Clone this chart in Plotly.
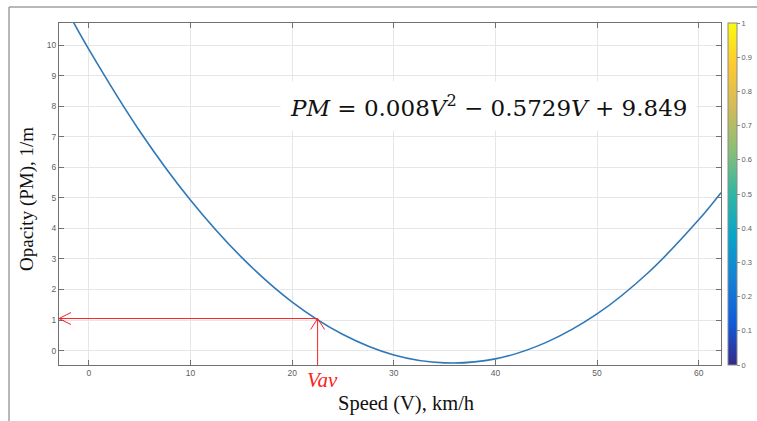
import plotly.graph_objects as go

speed = [-2, 0, 5, 10, 15, 20, 25, 30, 35, 40, 45, 50, 55, 60, 62.2]
opacity = [11.03, 9.85, 7.18, 4.92, 3.06, 1.59, 0.53, -0.14, -0.40, -0.27, 0.27, 1.20, 2.54, 4.28, 5.17]

# Marked average speed and its opacity
v_av = [22.5]
pm_av = [1.05]

x_ticks = [0, 10, 20, 30, 40, 50, 60]
y_ticks = [0, 1, 2, 3, 4, 5, 6, 7, 8, 9, 10]
cb_ticks = [0, 0.1, 0.2, 0.3, 0.4, 0.5, 0.6, 0.7, 0.8, 0.9, 1]
cb_labels = ["0", "0.1", "0.2", "0.3", "0.4", "0.5", "0.6", "0.7", "0.8", "0.9", "1"]

X_RANGE = [-2.95, 62.2]
Y_RANGE = [-0.47, 10.72]

W, H = 757, 421
ML, MR, MT, MB = 59, 36, 23, 56
PW = W - ML - MR
PH = H - MT - MB

parula = [
    [0.0, "#352A87"], [0.125, "#0F5CDD"], [0.25, "#1481D6"], [0.375, "#06A4CA"],
    [0.5, "#2EB7A4"], [0.625, "#87BF77"], [0.75, "#D1BB59"], [0.875, "#FEC832"],
    [1.0, "#F9FB0E"],
]

RED = "#ff2020"
GRAY = "#606060"

fig = go.Figure()

fig.add_trace(go.Scatter(
    x=speed, y=opacity, mode="lines", line=dict(color="#2f78b8", width=1.6, shape="spline"),
    showlegend=False, hoverinfo="skip",
))

# horizontal red line from the curve point to the left axis
fig.add_trace(go.Scatter(
    x=[X_RANGE[0], v_av[0]], y=[pm_av[0], pm_av[0]], mode="lines",
    line=dict(color=RED, width=1), showlegend=False, hoverinfo="skip",
))
# vertical red line from the bottom axis to the curve point
fig.add_trace(go.Scatter(
    x=[v_av[0], v_av[0]], y=[Y_RANGE[0], pm_av[0]], mode="lines",
    line=dict(color=RED, width=1), showlegend=False, hoverinfo="skip",
))

# colorbar
fig.add_trace(go.Scatter(
    x=[None], y=[None], mode="markers", showlegend=False, hoverinfo="skip",
    marker=dict(
        color=[0], cmin=0, cmax=1, colorscale=parula, showscale=True,
        colorbar=dict(
            thickness=9, len=1, lenmode="fraction", y=0.5, yanchor="middle",
            x=(728 - ML) / PW, xanchor="left", xpad=0, ypad=0,
            outlinecolor="#8a8a8a", outlinewidth=1,
            tickvals=cb_ticks, ticktext=cb_labels, ticks="outside", ticklen=3,
            tickcolor="#8a8a8a", ticklabeloverflow="allow",
            tickfont=dict(family="Liberation Sans, Arial", size=7.5, color=GRAY),
        ),
    ),
))

shapes = []
# chevron arrowhead at the left axis
for dy in (6, -6):
    shapes.append(dict(
        type="line", xref="x", yref="y", xsizemode="pixel", ysizemode="pixel",
        xanchor=X_RANGE[0], yanchor=pm_av[0], x0=0, y0=0, x1=12, y1=dy,
        line=dict(color=RED, width=1),
    ))
# chevron arrowhead at the curve point (pointing up)
for dx in (7, -7):
    shapes.append(dict(
        type="line", xref="x", yref="y", xsizemode="pixel", ysizemode="pixel",
        xanchor=v_av[0], yanchor=pm_av[0], x0=0, y0=0, x1=dx, y1=-11,
        line=dict(color=RED, width=1),
    ))
# outer frame (left and top edges of the picture)
fx = (9 - ML) / PW
fy_top = 1 + (MT - 7) / PH
fy_bot = -(MB) / PH - 0.01
shapes.append(dict(type="line", xref="paper", yref="paper", x0=fx, x1=fx, y0=fy_bot, y1=fy_top,
                   line=dict(color="#a0a0a0", width=1.5)))
shapes.append(dict(type="line", xref="paper", yref="paper", x0=fx, x1=1.1, y0=fy_top, y1=fy_top,
                   line=dict(color="#a0a0a0", width=1.5)))

annotations = [
    dict(
        text="<i>PM</i> = 0.008<i>V</i><sup>2</sup> − 0.5729<i>V</i> + 9.849",
        xref="paper", yref="paper", x=(488 - ML) / PW, y=1 - (106 - MT) / PH,
        xanchor="center", yanchor="middle", showarrow=False,
        font=dict(family="DejaVu Serif", size=23, color="#111111"),
        bgcolor="white", borderpad=9,
    ),
    dict(
        text="<i>Vav</i>", xref="x", yref="paper", x=v_av[0], y=-(366 - MT - PH) / PH,
        xanchor="center", yanchor="top", xshift=5, showarrow=False,
        font=dict(family="Liberation Serif", size=21, color=RED),
    ),
    dict(
        text="Speed (V), km/h", xref="paper", yref="paper",
        x=(406 - ML) / PW, y=-(403 - MT - PH) / PH, xanchor="center", yanchor="middle",
        showarrow=False, font=dict(family="Liberation Serif", size=20.5, color="#111111"),
    ),
    dict(
        text="Opacity (PM), 1/m", xref="paper", yref="paper",
        x=(27 - ML) / PW, y=1 - (199 - MT) / PH, xanchor="center", yanchor="middle",
        textangle=-90, showarrow=False,
        font=dict(family="Liberation Serif", size=19, color="#111111"),
    ),
]

axis_common = dict(
    showline=True, linecolor="#707070", linewidth=1, mirror="ticks",
    ticks="inside", ticklen=5, tickcolor="#707070", tickwidth=1,
    showgrid=True, gridcolor="#e6e6e6", gridwidth=1, zeroline=False,
    tickfont=dict(family="Liberation Sans, Arial", size=8.5, color=GRAY),
)

fig.update_layout(
    width=W, height=H, autosize=False,
    margin=dict(l=ML, r=MR, t=MT, b=MB, pad=0, autoexpand=False),
    paper_bgcolor="white", plot_bgcolor="white",
    xaxis=dict(range=X_RANGE, tickvals=x_ticks, **axis_common),
    yaxis=dict(range=Y_RANGE, tickvals=y_ticks, **axis_common),
    shapes=shapes, annotations=annotations, showlegend=False,
)

fig.write_html("out.html", config={"displayModeBar": False},
               post_script="document.body.style.margin='0';")
